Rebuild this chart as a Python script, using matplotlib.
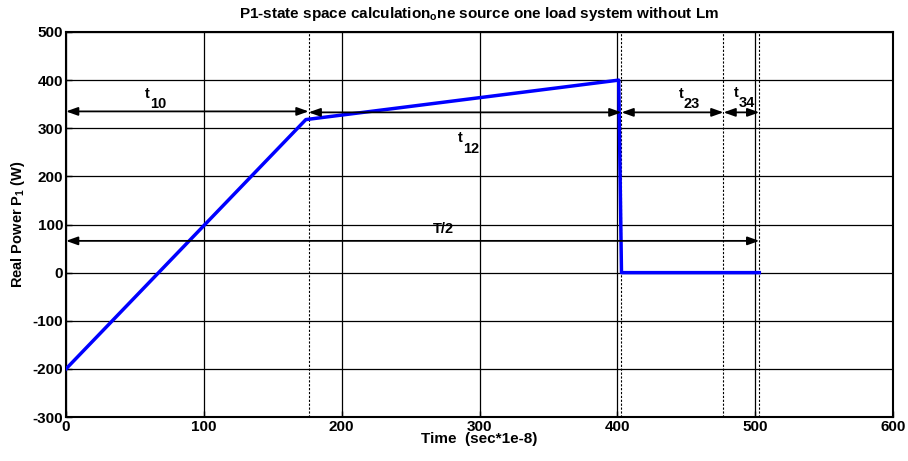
import numpy as np
import matplotlib
matplotlib.use("Agg")
import matplotlib.pyplot as plt

plt.rcParams['font.family'] = ['Liberation Sans', 'DejaVu Sans']
plt.rcParams['font.weight'] = 'bold'
plt.rcParams['axes.unicode_minus'] = False
plt.rcParams['mathtext.fontset'] = 'custom'
plt.rcParams['mathtext.rm'] = 'Liberation Sans:bold'
plt.rcParams['mathtext.default'] = 'rm'

# power curve
time = [0, 174, 401, 403, 503]
power = [-200, 318, 400, 0, 0]

# dashed interval boundaries
bounds = [176, 403, 477, 503]

# interval arrows (start, end, y)
arrows = [(0, 176, 335), (176, 403, 333), (403, 477, 333), (477, 503, 333), (0, 503, 66)]
# interval labels: main text, subscript, x, baseline y
labels = [("t", "10", 61, 363), ("t", "12", 288, 271), ("t", "23", 448, 363),
          ("t", "34", 488, 365), ("T/2", "", 274, 83)]

fig = plt.figure(figsize=(9.08, 4.61), dpi=100)
ax = fig.add_axes([0.0727, 0.0954, 0.9108, 0.8352])

ax.plot(time, power, color='blue', lw=2.5, zorder=3)

for b in bounds:
    ax.axvline(b, color='black', lw=0.8, ls=(0, (2, 1.5)), zorder=2)

for x0, x1, y in arrows:
    ax.annotate("", xy=(x1, y), xytext=(x0, y),
                arrowprops=dict(arrowstyle="<|-|>,head_length=0.7,head_width=0.25",
                                color='black', lw=1.3, shrinkA=0, shrinkB=0), zorder=4)

for main, sub, x, y in labels:
    if sub:
        ax.text(x, y, main, ha='right', va='baseline', fontsize=10.5, fontweight='bold')
        ax.annotate(sub, xy=(x, y), xytext=(0, -7.5), textcoords='offset points',
                    ha='left', va='baseline', fontsize=10.5, fontweight='bold')
    else:
        ax.text(x, y, main, ha='center', va='baseline', fontsize=10.5, fontweight='bold')

ax.set_xlim(0, 600)
ax.set_ylim(-300, 500)
ax.set_xticks(np.arange(0, 601, 100))
ax.set_yticks(np.arange(-300, 501, 100))
ax.grid(True, color='black', lw=0.9, ls='-')
ax.set_axisbelow(True)
ax.tick_params(direction='in', labelsize=11, length=4, width=1, pad=2)
for lab in ax.get_xticklabels() + ax.get_yticklabels():
    lab.set_fontweight('bold')
for sp in ax.spines.values():
    sp.set_linewidth(1.5)

ax.set_title("P1-state space calculation$_{\\rm o}$ne source one load system without Lm",
             fontsize=11, fontweight='bold', pad=10)
ax.set_xlabel("Time  (sec*1e-8)", fontsize=11, fontweight='bold', labelpad=-1)
ax.set_ylabel("Real Power P$_1$ (W)", fontsize=10.5, fontweight='bold', labelpad=4)

fig.savefig("out.png", dpi=100)
